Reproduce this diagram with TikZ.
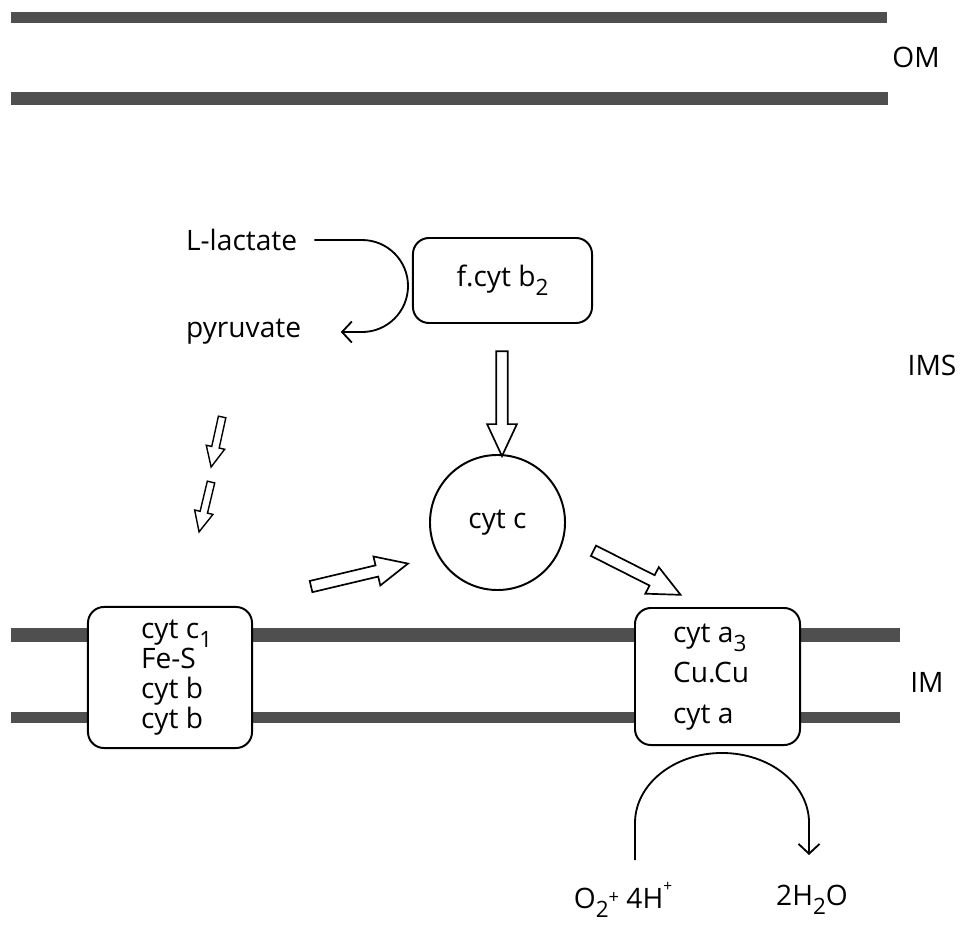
\documentclass[tikz,border=0pt]{standalone}
\usepackage{fontspec}
\setmainfont{Open Sans}
\usetikzlibrary{positioning,shapes.arrows,arrows.meta}
\definecolor{membrane}{HTML}{4F4F4F}
\newcommand{\lowsub}[1]{\raisebox{-0.6ex}{\fontsize{16}{16}\selectfont #1}}
\newcommand{\highsup}[1]{\raisebox{1.1ex}{\fontsize{11}{11}\selectfont #1}}

\begin{document}
\begin{tikzpicture}[x=0.025cm, y=0.025cm,
  memBar/.style   ={fill=membrane},
  cplxBox/.style  ={draw, line width=1.4pt, rounded corners=0.4cm, fill=white, inner sep=0pt},
  lbl/.style      ={font=\fontsize{20}{21.5}\selectfont, inner sep=2pt},
  bigArrow/.style ={single arrow, draw, line width=1.2pt, fill=white, inner xsep=0pt, inner ysep=3.5pt,
                    single arrow head extend=6.5pt, single arrow tip angle=50, sloped, allow upside down},
  smallArrow/.style={bigArrow, line width=1pt, inner ysep=2.2pt, single arrow head extend=4pt},
  thinArrow/.style={line width=1.3pt, -{Straight Barb[length=7pt,width=15pt]}},
]
\useasboundingbox (0,0) rectangle (960,930);

% membranes: OM pair on top, IM pair below
\foreach \ya/\yb/\xb in {907/918/887, 825/838/888, 288/302/900, 207/218/900}
  \fill[memBar] (11,\ya) rectangle (\xb,\yb);
\node[lbl] (om)  at (916,873) {OM};
\node[lbl] (ims) at (932,565) {IMS};
\node[lbl] (im)  at (927,248) {IM};

% flavocytochrome b2 and lactate
\node[cplxBox, minimum width=4.475cm, minimum height=2.125cm, lbl] (fcyt) at (502.5,649.5) {f.cyt b\lowsub{2}};
\node[lbl, anchor=west] (lact) at (183,690) {L-lactate};
\node[lbl, anchor=west] (pyr)  at (183,598) {pyruvate};
\draw[thinArrow, shorten <=10pt, shorten >=26pt] (lact.east) -- (362,690)
  arc[start angle=90, end angle=-90, radius=1.15cm] -- (pyr.east);

% cytochrome c
\node[draw, circle, line width=1.4pt, minimum size=3.375cm, lbl] (cytc) at (497.5,407.5) {cyt c};

% complexes in the inner membrane
\node[cplxBox, minimum width=4.1cm, minimum height=3.525cm] (bcOne) at (170,252.5) {};
\node[lbl, align=left, anchor=west] (bcOneTxt) at (138,252.5) {cyt c\lowsub{1}\\Fe-S\\cyt b\\cyt b};
\node[cplxBox, minimum width=4.125cm, minimum height=3.425cm] (cox) at (717.5,253.5) {};
\node[lbl, align=left, anchor=west] (coxTxt) at (670,253) {cyt a\lowsub{3}\\[7.5pt]Cu.Cu\\[7.5pt]cyt a};

% electron transfer
\coordinate (sA) at (223,517);   \coordinate (sB) at (212,467);
\coordinate (sC) at (212,452);   \coordinate (sD) at (200,402);
\coordinate (fOut) at (502,585); \coordinate (cTop) at (502,480);
\coordinate (bcOut) at (305,342); \coordinate (cIn) at (402,365);
\coordinate (cOut) at (588,382); \coordinate (coxIn) at (675,338);
\foreach \a/\b/\len in {fOut/cTop/2.62cm, bcOut/cIn/2.49cm, cOut/coxIn/2.44cm}
  \path (\a) -- (\b) node[midway, bigArrow, minimum height=\len] {};
\foreach \a/\b in {sA/sB, sC/sD}
  \path (\a) -- (\b) node[midway, smallArrow, minimum height=1.28cm] {};

% oxygen reduction at the oxidase
\node[lbl] (oxy)   at (623,30) {O\lowsub{2}\raisebox{0.3ex}{\fontsize{13}{13}\selectfont+} 4H\highsup{+}};
\node[lbl] (water) at (812,30) {2H\lowsub{2}O};
\coordinate (oxyUp) at (635,70);
\coordinate (waterUp) at (809,75);
\draw[thinArrow] (oxyUp) -- ++(0,37)
  arc[start angle=180, end angle=0, x radius=2.175cm, y radius=1.75cm] -- (waterUp);
\end{tikzpicture}
\end{document}
